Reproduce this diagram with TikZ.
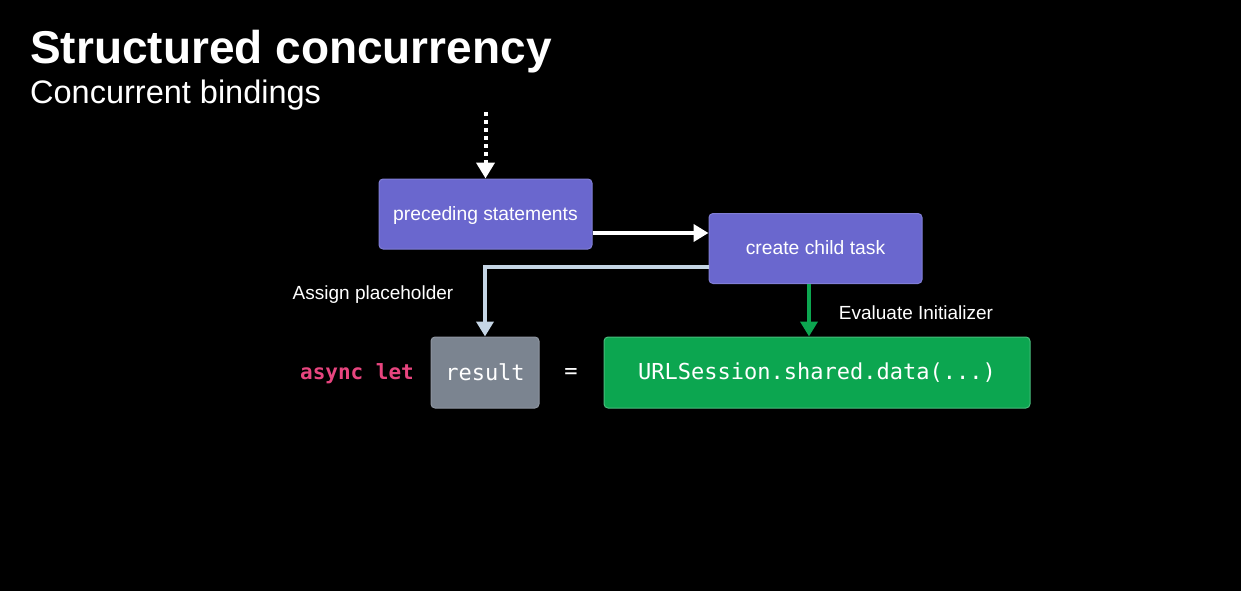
\documentclass[tikz,border=0pt]{standalone}
\usepackage{fontspec}
\setmainfont{Liberation Sans}
\setmonofont{DejaVu Sans Mono}
\usetikzlibrary{arrows.meta}

\definecolor{taskpurple}{HTML}{6A67CE}
\definecolor{slotgray}{HTML}{7B8490}
\definecolor{initgreen}{HTML}{0CA650}
\definecolor{assignblue}{HTML}{C5D5E5}
\definecolor{keypink}{HTML}{E8457F}

\tikzset{
  taskbox/.style={fill=taskpurple, draw=taskpurple!85!white, line width=1pt, rounded corners=4pt,
    minimum width=213pt, minimum height=70pt, text height=14pt, text depth=2pt, text=white,
    font=\fontsize{19.3}{21}\selectfont},
  codebox/.style={rounded corners=4pt, line width=1pt, minimum height=71pt, text=white,
    font=\ttfamily\fontsize{22}{24}\selectfont},
  flow/.style={line width=4pt, -{Triangle[length=15pt,width=17pt]}},
  caption/.style={text=white, font=\fontsize{19}{21}\selectfont}
}

\begin{document}
\begin{tikzpicture}[x=1pt, y=-1pt]
            % Background and frame
            \fill[black] (0,0) rectangle (1241,591);
            \useasboundingbox (0,0) rectangle (1241,591);

            % Heading
            \node[anchor=base west, inner sep=0pt, text=white, font=\bfseries\fontsize{46}{50}\selectfont] (title) at (30,64) {Structured concurrency};
            \node[anchor=base west, inner sep=0pt, text=white, font=\fontsize{32.5}{34}\selectfont] (subtitle) at (30,103) {Concurrent bindings};

            % Tasks
            \node[taskbox] (prec) at (485.5,214) {preceding statements};
            \node[taskbox] (child) at (815.5,248.5) {create child task};

            % Binding line
            \node[text=keypink, font=\ttfamily\bfseries\fontsize{21}{24}\selectfont] (async) at (357,374) {async let};
            \node[codebox, fill=slotgray, draw=slotgray!85!white, minimum width=108pt] (result) at (485,372.5) {result};
            \node[text=white, font=\ttfamily\fontsize{22}{24}\selectfont] (eq) at (571,374) {=};
            \node[codebox, fill=initgreen, draw=initgreen!75!white, minimum width=426pt] (url) at (817,372.5) {URLSession.shared.data(...)};

            % Connectors
            \coordinate (entry) at (485.5,112);
            \draw[white, line width=4pt, dash pattern=on 4pt off 4pt, -{Triangle[length=16pt,width=18pt]}] (entry) -- (prec.north);
            \draw[flow, white] ([yshift=-19]prec.east) -- ([yshift=-19]prec.east -| child.west);
            \draw[flow, assignblue] ([yshift=-18.5]child.west) -| (result.north);
            \draw[flow, initgreen] ([xshift=-6.5]child.south) -- ([xshift=-6.5]child.south |- url.north);

            % Labels
            \node[caption] (assign) at (373,295) {Assign placeholder};
            \node[caption] (evaluate) at (916,313) {Evaluate Initializer};
        \end{tikzpicture}
\end{document}
